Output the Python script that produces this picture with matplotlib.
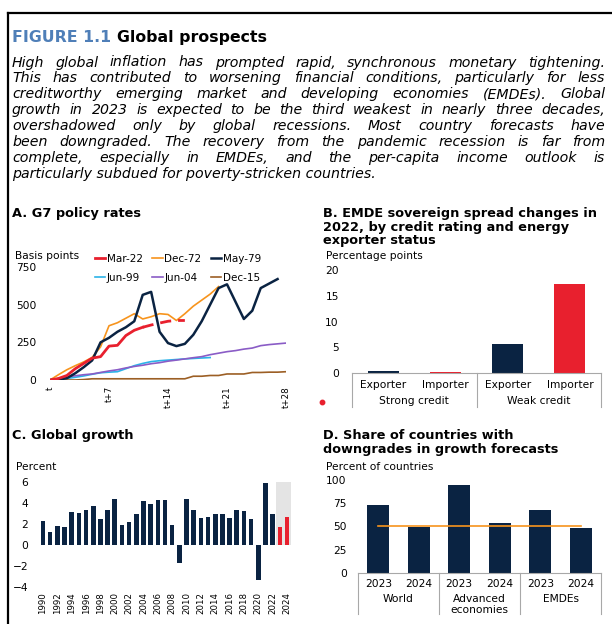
import matplotlib
matplotlib.use("Agg")
import matplotlib.pyplot as plt
from matplotlib.lines import Line2D
import numpy as np

# ---------------- data ----------------
# Panel A: G7 policy rates (basis points), periods t .. t+28
mar22 = [0, 10, 30, 75, 110, 145, 155, 225, 230, 295, 330, 350, 365, 378, 390, 395, 395]
mar22_solid_end = 11
dec72 = [0, 35, 68, 95, 120, 150, 220, 360, 380, 410, 440, 405, 420, 440, 435, 395, 440, 490, 530, 570, 620]
may79 = [0, 3, 12, 45, 85, 130, 250, 280, 320, 350, 390, 565, 585, 320, 245, 225, 240, 300, 390, 500,
         610, 635, 520, 405, 460, 610, 640, 670]
jun99 = [0, 5, 10, 18, 27, 38, 48, 52, 55, 75, 95, 110, 122, 128, 132, 136, 140, 143, 146, 149]
jun04 = [0, 10, 20, 28, 35, 40, 50, 60, 68, 80, 90, 98, 108, 115, 125, 132, 140, 148, 155, 168,
         178, 188, 195, 205, 212, 228, 235, 240, 245]
dec15 = [0, 0, 0, 0, 3, 8, 8, 8, 8, 8, 8, 8, 8, 8, 8, 8, 8, 25, 25, 30, 30, 40, 40, 40, 50, 50, 52, 52, 55]
a_xticks = [0, 7, 14, 21, 28]
a_xticklabels = ["t", "t+7", "t+14", "t+21", "t+28"]
a_yticks = [0, 250, 500, 750]

# Panel B: EMDE sovereign spread changes in 2022 (percentage points)
b_cats = ["Exporter", "Importer", "Exporter", "Importer"]
b_groups = ["Strong credit", "Weak credit"]
b_vals = [0.3, 0.2, 5.6, 17.3]
b_yticks = [0, 5, 10, 15, 20]

# Panel C: Global growth (percent)
c_years = list(range(1990, 2025))
c_vals = [2.3, 1.2, 1.8, 1.7, 3.1, 3.0, 3.3, 3.7, 2.5, 3.3, 4.4, 1.9, 2.2, 2.9, 4.2, 3.9, 4.3, 4.3,
          1.9, -1.7, 4.4, 3.3, 2.6, 2.7, 2.9, 2.9, 2.6, 3.3, 3.2, 2.5, -3.3, 5.9, 2.9, 1.7, 2.7]
c_forecast_years = [2023, 2024]
c_yticks = [-4, -2, 0, 2, 4, 6]

# Panel D: Share of countries with downgrades (percent of countries)
d_years = ["2023", "2024", "2023", "2024", "2023", "2024"]
d_groups = ["World", "Advanced\neconomies", "EMDEs"]
d_vals = [73, 49, 95, 54, 68, 48]
d_ref = 50
d_yticks = [0, 25, 50, 75, 100]

# ---------------- style ----------------
NAVY = "#0a2342"
RED = "#e8202e"
ORANGE = "#f7941d"
CYAN = "#2bb3e8"
PURPLE = "#8a5cc6"
BROWN = "#9c5f25"
BLUE_T = "#4f7fb8"
GREY = "#a8a8a8"
FS = 7.7

plt.rcParams["font.family"] = ["DejaVu Sans"]

W, H = 612, 624
fig = plt.figure(figsize=(W / 100, H / 100), dpi=100)
renderer = fig.canvas.get_renderer()


def fx(x):
    return x / W


def fy(y):
    return 1 - y / H


def ax_px(l, t, r, b):
    return fig.add_axes([l / W, 1 - b / H, (r - l) / W, (b - t) / H])


# frame
fig.add_artist(Line2D([fx(8), 1], [fy(13), fy(13)], color="black", lw=1.6, transform=fig.transFigure))
fig.add_artist(Line2D([fx(8), fx(8)], [fy(13), 0], color="black", lw=1.6, transform=fig.transFigure))

# main title
t1 = fig.text(fx(12), fy(42), "FIGURE 1.1 ", color=BLUE_T, fontsize=11.3, fontweight="bold", va="baseline")
w1 = t1.get_window_extent(renderer).width
fig.text(fx(12 + w1), fy(42), "Global prospects", color="black", fontsize=11.3, fontweight="bold", va="baseline")

# body text (justified)
body = [
    "High global inflation has prompted rapid, synchronous monetary tightening.",
    "This has contributed to worsening financial conditions, particularly for less",
    "creditworthy emerging market and developing economies (EMDEs). Global",
    "growth in 2023 is expected to be the third weakest in nearly three decades,",
    "overshadowed only by global recessions. Most country forecasts have",
    "been downgraded. The recovery from the pandemic recession is far from",
    "complete, especially in EMDEs, and the per-capita income outlook is",
    "particularly subdued for poverty-stricken countries.",
]
bkw = dict(fontsize=10.2, style="italic", va="baseline", color="black")
x0, x1 = 12, 605
for i, line in enumerate(body):
    y = 66.5 + i * 15.9
    if i == len(body) - 1:
        fig.text(fx(x0), fy(y), line, **bkw)
        continue
    words = line.split()
    texts = [fig.text(0, 0, w, **bkw) for w in words]
    widths = [t.get_window_extent(renderer).width for t in texts]
    gap = (x1 - x0 - sum(widths)) / (len(words) - 1)
    x = x0
    for t, w in zip(texts, widths):
        t.set_position((fx(x), fy(y)))
        x += w + gap

tkw = dict(fontsize=9.3, fontweight="bold", va="baseline")
fig.text(fx(12), fy(217), "A. G7 policy rates", **tkw)
fig.text(fx(323), fy(217), "B. EMDE sovereign spread changes in", **tkw)
fig.text(fx(323), fy(230.7), "2022, by credit rating and energy", **tkw)
fig.text(fx(323), fy(244.3), "exporter status", **tkw)
fig.text(fx(12), fy(438.5), "C. Global growth", **tkw)
fig.text(fx(323), fy(439), "D. Share of countries with", **tkw)
fig.text(fx(323), fy(452.5), "downgrades in growth forecasts", **tkw)

ukw = dict(fontsize=FS, va="center")
fig.text(fx(15), fy(256), "Basis points", **ukw)
fig.text(fx(326), fy(256), "Percentage points", **ukw)
fig.text(fx(16), fy(467), "Percent", **ukw)
fig.text(fx(326), fy(467), "Percent of countries", **ukw)


def clean(ax):
    for s in ax.spines.values():
        s.set_visible(False)
    ax.tick_params(length=0, labelsize=FS)
    ax.patch.set_alpha(0)


# ---------------- Panel A ----------------
axA = ax_px(50, 267, 286, 380)
clean(axA)
axA.plot(range(len(jun99)), jun99, color=CYAN, lw=1.2, label="Jun-99")
axA.plot(range(len(jun04)), jun04, color=PURPLE, lw=1.2, label="Jun-04")
axA.plot(range(len(dec15)), dec15, color=BROWN, lw=1.2, label="Dec-15")
axA.plot(range(len(dec72)), dec72, color=ORANGE, lw=1.2, label="Dec-72")
axA.plot(range(len(may79)), may79, color=NAVY, lw=1.8, label="May-79")
xs = np.arange(len(mar22))
axA.plot(xs[:mar22_solid_end + 1], mar22[:mar22_solid_end + 1], color=RED, lw=2.0, label="Mar-22")
axA.plot(xs[mar22_solid_end:], mar22[mar22_solid_end:], color=RED, lw=2.0, ls=(0, (4, 2.5)))
axA.set_xlim(0, 28)
axA.set_ylim(0, 750)
axA.set_yticks(a_yticks)
axA.set_xticks(a_xticks)
axA.set_xticklabels(a_xticklabels, rotation=90, fontsize=6.3)
axA.tick_params(axis="y", pad=10)
axA.tick_params(axis="x", pad=4.5)
hd = {l.get_label(): l for l in axA.get_lines()}
order = ["Mar-22", "Jun-99", "Dec-72", "Jun-04", "May-79", "Dec-15"]
leg = axA.legend([hd[k] for k in order], order, ncol=3, frameon=False, fontsize=7.5,
                 loc="upper left", bbox_to_anchor=(fx(95), fy(253.5)), bbox_transform=fig.transFigure,
                 borderpad=0, borderaxespad=0, handlelength=1.0, handletextpad=0.15,
                 columnspacing=0.9, labelspacing=0.9)

# ---------------- Panel B ----------------
axB = ax_px(352, 270, 601, 373)
clean(axB)
bx = np.arange(len(b_vals))
axB.bar(bx, b_vals, width=0.5, color=[NAVY, RED, NAVY, RED])
axB.set_xlim(-0.5, 3.5)
axB.set_ylim(0, 20)
axB.set_yticks(b_yticks)
axB.set_xticks([])
axB.tick_params(axis="y", pad=9.4)
axB.spines["bottom"].set_visible(True)
axB.spines["bottom"].set_color(GREY)
axB.spines["bottom"].set_linewidth(0.8)
tB = axB.get_xaxis_transform()
hB = 103.0
for i, c in enumerate(b_cats):
    axB.text(i, -(384.5 - 373) / hB, c, transform=tB, ha="center", va="center", fontsize=FS)
for g, gname in enumerate(b_groups):
    axB.text(0.5 + 2 * g, -(401 - 373) / hB, gname, transform=tB, ha="center", va="center", fontsize=FS)
for sx in [-0.5, 1.5, 3.5]:
    axB.plot([sx, sx], [0, -(407 - 373) / hB], transform=tB, color=GREY, lw=0.8, clip_on=False)
fig.add_artist(Line2D([fx(322)], [fy(402)], marker="o", markersize=3.2, color=RED, lw=0,
                      transform=fig.transFigure))

# ---------------- Panel C ----------------
axC = ax_px(39.4, 481.7, 290.6, 587.2)
clean(axC)
axC.fill_between([2022.5, 2024.5], 0, 6, color="#e4e4e4", lw=0, zorder=0)
ccols = [RED if y in c_forecast_years else NAVY for y in c_years]
axC.bar(c_years, c_vals, width=0.64, color=ccols, zorder=2)
axC.set_xlim(1989.5, 2024.5)
axC.set_ylim(-4, 6)
axC.set_yticks(c_yticks)
axC.set_xticks(c_years[::2])
axC.set_xticklabels([str(y) for y in c_years[::2]], rotation=90, fontsize=6.2)
axC.tick_params(axis="y", pad=8.2)
axC.tick_params(axis="x", pad=3.6)

# ---------------- Panel D ----------------
axD = ax_px(358, 480, 601, 572.7)
clean(axD)
dx = np.arange(len(d_vals))
axD.bar(dx, d_vals, width=0.55, color=NAVY, zorder=2)
axD.plot([dx[0], dx[-1]], [d_ref, d_ref], color=ORANGE, lw=1.2, zorder=3)
axD.set_xlim(-0.5, 5.5)
axD.set_ylim(0, 100)
axD.set_yticks(d_yticks)
axD.set_xticks([])
axD.tick_params(axis="y", pad=8.1)
axD.spines["bottom"].set_visible(True)
axD.spines["bottom"].set_color(GREY)
axD.spines["bottom"].set_linewidth(0.8)
tD = axD.get_xaxis_transform()
hD = 92.7
for i, yl in enumerate(d_years):
    axD.text(i, -(584 - 572.7) / hD, yl, transform=tD, ha="center", va="center", fontsize=FS)
for g, gname in enumerate(d_groups):
    axD.text(0.5 + 2 * g, -(594.5 - 572.7) / hD, gname, transform=tD, ha="center", va="top",
             fontsize=FS, linespacing=1.05)
for sx in [-0.5, 1.5, 3.5, 5.5]:
    axD.plot([sx, sx], [0, -(614 - 572.7) / hD], transform=tD, color=GREY, lw=0.8, clip_on=False)

fig.savefig("out.png", dpi=100)
